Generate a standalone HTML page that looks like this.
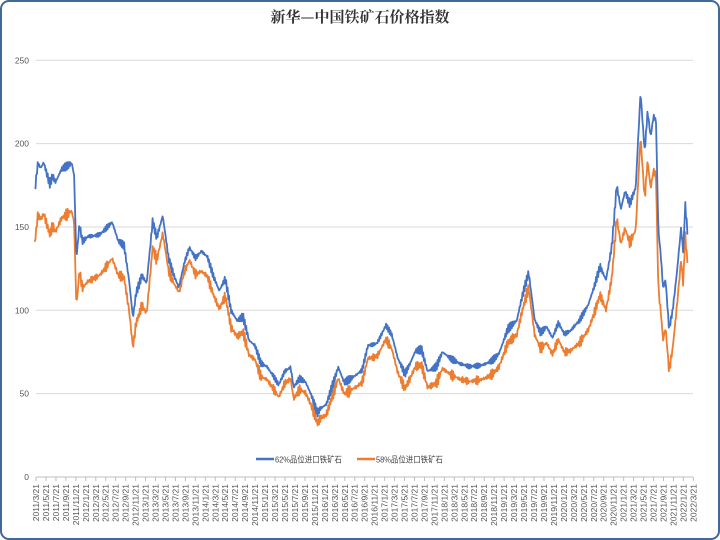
<!DOCTYPE html>
<html><head><meta charset="utf-8"><style>
body{margin:0;background:#fff;}
svg{display:block;font-family:"Liberation Sans","Noto Sans CJK SC",sans-serif;}
</style></head><body>
<svg id="s" width="720" height="540" xmlns="http://www.w3.org/2000/svg">
<rect x="1" y="1" width="718" height="538" rx="8" fill="#fff" stroke="#41689a" stroke-width="2"/>
<text x="360" y="22" text-anchor="middle" font-size="15" font-family="'Noto Serif CJK SC',serif" fill="#333" font-weight="bold">新华—中国铁矿石价格指数</text>
<g id="grid"></g>
<g id="lines"></g>
<g id="xl" font-size="8.5" fill="#555"></g>
<line x1="256" y1="459" x2="274" y2="459" stroke="#4472c4" stroke-width="2.5"/>
<text x="275" y="462.5" font-size="8.5" fill="#444" textLength="67" lengthAdjust="spacingAndGlyphs">62%品位进口铁矿石</text>
<line x1="357" y1="459" x2="375" y2="459" stroke="#ed7d31" stroke-width="2.5"/>
<text x="376" y="462.5" font-size="8.5" fill="#444" textLength="67" lengthAdjust="spacingAndGlyphs">58%品位进口铁矿石</text>
</svg>
<script>
var NS="http://www.w3.org/2000/svg";
function el(t,a,p){var e=document.createElementNS(NS,t);for(var k in a)e.setAttribute(k,a[k]);document.getElementById(p).appendChild(e);return e;}
function Y(v){return 477-1.667*v;}
function X(t){return 36+(t-2011.22)*59.5;}
[0,50,100,150,200,250].forEach(function(v){
 if(v>0)el("line",{x1:36,x2:693,y1:Y(v),y2:Y(v),stroke:"#d9d9d9","stroke-width":1},"grid");
 var t=el("text",{x:29,y:Y(v)+3,"text-anchor":"end","font-size":"8.5",fill:"#555"},"grid");t.textContent=v;
});
el("line",{x1:36,x2:693,y1:477,y2:477,stroke:"#bfbfbf","stroke-width":1},"grid");
var i=0;
for(var y=2011;y<=2022;y++)for(var m=1;m<=11;m+=2){
 if(y==2011&&m<3)continue; if(y==2022&&m>3)continue;
 var x=36+i*9.96;
 el("line",{x1:x,x2:x,y1:477,y2:481,stroke:"#bfbfbf"},"grid");
 var t=el("text",{transform:"translate("+(x+3)+",484) rotate(-90)","text-anchor":"end"},"xl");
 t.textContent=y+"/"+m+"/21"; i++;
}
var B=[[2011.2,173],[2011.25,190],[2011.3,187],[2011.35,190],[2011.45,176],[2011.5,180],[2011.55,176],[2011.65,183],[2011.75,185],[2011.82,187],[2011.86,180],[2011.9,130],[2011.95,152],[2012.0,142],[2012.1,146],[2012.3,147],[2012.5,152],[2012.6,140],[2012.7,137],[2012.78,118],[2012.85,95],[2012.9,110],[2013.0,122],[2013.08,118],[2013.18,155],[2013.25,145],[2013.35,157],[2013.45,130],[2013.55,118],[2013.62,112],[2013.72,128],[2013.8,137],[2013.9,132],[2014.0,137],[2014.1,134],[2014.2,122],[2014.3,112],[2014.4,118],[2014.5,98],[2014.6,92],[2014.7,95],[2014.8,82],[2014.9,80],[2015.0,70],[2015.1,68],[2015.2,62],[2015.3,55],[2015.4,62],[2015.5,64],[2015.55,52],[2015.65,58],[2015.75,57],[2015.85,50],[2015.95,40],[2016.0,43],[2016.1,45],[2016.2,55],[2016.3,65],[2016.4,55],[2016.5,57],[2016.6,60],[2016.7,64],[2016.8,80],[2016.95,82],[2017.1,92],[2017.2,85],[2017.3,70],[2017.42,60],[2017.5,66],[2017.6,75],[2017.7,77],[2017.8,65],[2017.95,68],[2018.05,76],[2018.2,70],[2018.35,66],[2018.5,65],[2018.7,68],[2018.9,72],[2019.0,75],[2019.15,88],[2019.3,92],[2019.4,108],[2019.5,122],[2019.6,95],[2019.7,88],[2019.8,92],[2019.9,85],[2020.0,93],[2020.1,85],[2020.2,86],[2020.35,92],[2020.5,103],[2020.6,115],[2020.7,128],[2020.8,120],[2020.9,140],[2020.98,175],[2021.05,160],[2021.12,170],[2021.2,162],[2021.3,172],[2021.38,230],[2021.45,195],[2021.5,220],[2021.55,205],[2021.6,218],[2021.64,215],[2021.68,150],[2021.72,135],[2021.76,115],[2021.8,120],[2021.86,90],[2021.92,100],[2022.0,125],[2022.06,148],[2022.1,133],[2022.13,162],[2022.17,145]];
var D=[[2011,32],[2012,28],[2012.8,18],[2013.1,18],[2013.6,3],[2014,12],[2015,8],[2016,6],[2017,8],[2018,10],[2019,8],[2020,10],[2021,20],[2021.4,27],[2021.7,35],[2021.86,25],[2022,20],[2022.2,18]];
function interp(A,t){for(var k=0;k<A.length-1;k++){if(t<=A[k+1][0]){var f=(t-A[k][0])/(A[k+1][0]-A[k][0]);return A[k][1]+f*(A[k+1][1]-A[k][1]);}}return A[A.length-1][1];}
var pb=[],po=[];
for(var t=2011.2;t<=2022.17;t+=0.012){
 var n=Math.sin(t*517)*1.8+Math.sin(t*1311)*1.3+Math.sin(t*2903)*1.2;
 var b=interp(B,t)+n; var o=b-interp(D,t)+Math.sin(t*733)*1.2;
 pb.push(X(t).toFixed(1)+","+Y(b).toFixed(1)); po.push(X(t).toFixed(1)+","+Y(o).toFixed(1));
}
el("polyline",{points:po.join(" "),fill:"none",stroke:"#ed7d31","stroke-width":1.8,"stroke-linejoin":"round"},"lines");
el("polyline",{points:pb.join(" "),fill:"none",stroke:"#4472c4","stroke-width":1.8,"stroke-linejoin":"round"},"lines");
</script>
</body></html>
